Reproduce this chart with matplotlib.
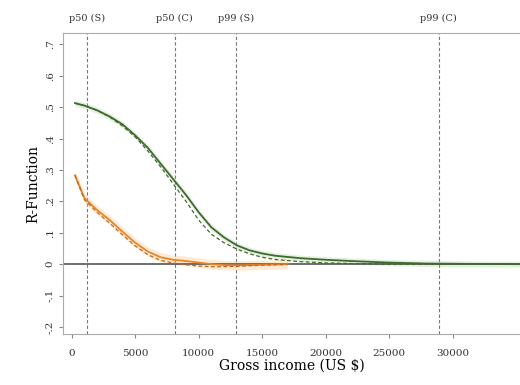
import matplotlib.pyplot as plt
import numpy as np

# Ingresos (US $) donde se leyeron los valores
ingreso_verde = [250, 1000, 2000, 3000, 4000, 5000, 6000, 7000, 8000, 9000, 10000,
                 11000, 12000, 13000, 14000, 15000, 16000, 18000, 20000, 22000,
                 25000, 28000, 31000, 35300]
verde_solido = [0.513, 0.505, 0.49, 0.47, 0.445, 0.41, 0.37, 0.32, 0.27, 0.22, 0.165,
                0.117, 0.085, 0.06, 0.044, 0.034, 0.027, 0.019, 0.014, 0.010,
                0.005, 0.002, 0.001, 0.0]
verde_guion = [0.513, 0.505, 0.49, 0.468, 0.44, 0.405, 0.36, 0.31, 0.255, 0.20, 0.14,
               0.095, 0.068, 0.048, 0.033, 0.022, 0.015, 0.008, 0.004, 0.002,
               0.0, 0.0, 0.0, 0.0]

ingreso_naranja = [250, 1000, 2000, 3000, 4000, 5000, 6000, 7000, 8000, 9000, 10000,
                   11000, 12000, 13000, 14000, 15000, 16000, 17000]
naranja_solido = [0.283, 0.21, 0.172, 0.14, 0.103, 0.068, 0.04, 0.022, 0.014, 0.01, 0.005,
                  0.0, -0.003, -0.004, -0.003, -0.002, -0.001, 0.0]
naranja_guion = [0.283, 0.205, 0.165, 0.13, 0.093, 0.058, 0.03, 0.012, 0.004, -0.002, -0.006,
                 -0.008, -0.008, -0.007, -0.005, -0.003, -0.002, -0.001]

# Percentiles marcados
percentiles = [1180, 8110, 12900, 28900]
etiquetas_p = ["p50 (S)", "p50 (C)", "p99 (S)", "p99 (C)"]

xticks = [0, 5000, 10000, 15000, 20000, 25000, 30000]
yticks = [-0.2, -0.1, 0, 0.1, 0.2, 0.3, 0.4, 0.5, 0.6, 0.7]
ytick_labels = ["-.2", "-.1", "0", ".1", ".2", ".3", ".4", ".5", ".6", ".7"]

plt.rcParams['font.family'] = ['DejaVu Serif']

fig = plt.figure(figsize=(5.2, 3.85), dpi=100)
ax = fig.add_axes([0.121, 0.132, 0.879, 0.782])

verde = "#3f6a2e"
naranja = "#e8842a"

# Bandas tenues
ax.fill_between(ingreso_verde, np.array(verde_solido) - 0.010, np.array(verde_solido) + 0.010,
                color="#9cc48a", alpha=0.25, lw=0)
ax.fill_between(ingreso_naranja, np.array(naranja_solido) - 0.015, np.array(naranja_solido) + 0.015,
                color="#ffc680", alpha=0.35, lw=0)

ax.axhline(0, color="#555555", lw=1.2, zorder=1)

ax.plot(ingreso_verde, verde_solido, color=verde, lw=1.3)
ax.plot(ingreso_verde, verde_guion, color=verde, lw=0.9, ls=(0, (3, 2)))
ax.plot(ingreso_naranja, naranja_solido, color=naranja, lw=1.3)
ax.plot(ingreso_naranja, naranja_guion, color="#b8692a", lw=0.9, ls=(0, (3, 2)))

for xp, lab in zip(percentiles, etiquetas_p):
    ax.axvline(xp, color="#777777", lw=0.8, ls=(0, (3, 2)), zorder=0)
    ax.text(xp, 1.035, lab, transform=ax.get_xaxis_transform(), ha="center", va="bottom",
            fontsize=7, color="#333333")

ax.set_xlim(-700, 35300)
ax.set_ylim(-0.223, 0.736)
ax.set_xticks(xticks)
ax.set_xticklabels([str(t) for t in xticks], fontsize=7.5)
ax.set_yticks(yticks)
ax.set_yticklabels(ytick_labels, fontsize=7.5, rotation=90, va="center")
ax.set_xlabel("Gross income (US $)", fontsize=10, labelpad=0)
ax.set_ylabel("R-Function", fontsize=10, labelpad=4)
ax.tick_params(length=3, color="#888888", colors="#333333", pad=3)
ax.tick_params(axis="x", pad=8)

for s in ax.spines.values():
    s.set_color("#aaaaaa")
    s.set_linewidth(0.8)
ax.spines['right'].set_visible(False)

fig.savefig("out.png", dpi=100)
